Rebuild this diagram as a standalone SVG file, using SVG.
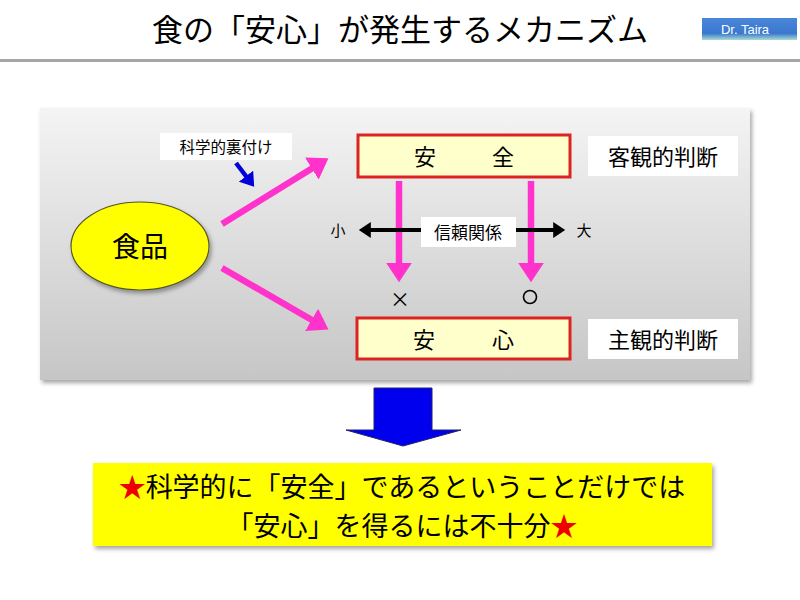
<svg xmlns="http://www.w3.org/2000/svg" width="800" height="600" viewBox="0 0 800 600">
<defs>
<linearGradient id="panelG" x1="0" y1="0" x2="0" y2="1">
<stop offset="0" stop-color="#f4f4f4"/>
<stop offset="1" stop-color="#c6c6c6"/>
</linearGradient>
<linearGradient id="badgeG" x1="0" y1="0" x2="0" y2="1">
<stop offset="0" stop-color="#4a86d8"/>
<stop offset="0.7" stop-color="#3a78d0"/>
<stop offset="1" stop-color="#a8dcd0"/>
</linearGradient>
<filter id="sh" x="-5%" y="-5%" width="110%" height="120%">
<feDropShadow dx="2" dy="3" stdDeviation="2" flood-color="#000" flood-opacity="0.35"/>
</filter>
<marker id="pinkHead" markerWidth="4" markerHeight="4" refX="2.2" refY="2" orient="auto" markerUnits="strokeWidth">
<path d="M0,0 L3,2 L0,4 Z" fill="#ff33cc"/>
</marker>
<marker id="blackHead" markerWidth="4" markerHeight="4" refX="2.2" refY="2" orient="auto" markerUnits="strokeWidth">
<path d="M0,0 L3,2 L0,4 Z" fill="#000"/>
</marker>
<marker id="blueHead" markerWidth="4" markerHeight="4" refX="2.2" refY="2" orient="auto" markerUnits="strokeWidth">
<path d="M0,0 L3,2 L0,4 Z" fill="#0000dd"/>
</marker>
</defs>
<style>
text{font-family:"Noto Sans CJK JP","Noto Sans CJK SC",sans-serif;fill:#000}
.box{fill:#ffffcc;stroke:#dd2222;stroke-width:3}
.lab{fill:#fff}
.pink{stroke:#ff33cc;stroke-width:6.5;fill:none;marker-end:url(#pinkHead)}
</style>
<rect width="800" height="600" fill="#fff"/>

<g id="title">
<text x="400" y="41" font-size="31" text-anchor="middle">食の「安心」が発生するメカニズム</text>
</g>
<g id="badge">
<rect x="702" y="18" width="95" height="22" fill="url(#badgeG)"/>
<text x="745" y="34" font-size="13" text-anchor="middle" style="fill:#fff;font-family:'Liberation Sans',sans-serif">Dr. Taira</text>
</g>
<rect x="0" y="59" width="800" height="3" fill="#a6a6a6"/>

<g id="panel">
<rect x="40" y="108" width="710" height="272" fill="url(#panelG)" filter="url(#sh)"/>
</g>

<g id="connectors">
<line class="pink" x1="222" y1="224" x2="324" y2="161"/>
<line class="pink" x1="222" y1="268" x2="324" y2="327"/>
<line class="pink" x1="399" y1="181" x2="399" y2="277"/>
<line class="pink" x1="531" y1="181" x2="531" y2="277"/>
<line x1="236" y1="163" x2="252" y2="184" stroke="#0000dd" stroke-width="4.5" marker-end="url(#blueHead)"/>
<line x1="440" y1="230" x2="362" y2="230" stroke="#000" stroke-width="4" marker-end="url(#blackHead)"/>
<line x1="500" y1="230" x2="562" y2="230" stroke="#000" stroke-width="4" marker-end="url(#blackHead)"/>
</g>

<g id="food">
<ellipse cx="140" cy="246" rx="69" ry="44" fill="#ffff00" stroke="#555522" stroke-width="1.2" filter="url(#sh)"/>
<text x="140" y="257" font-size="28" text-anchor="middle">食品</text>
</g>

<g id="label-science">
<rect class="lab" x="160" y="133" width="132" height="27"/>
<text x="226" y="153" font-size="15.5" text-anchor="middle">科学的裏付け</text>
</g>

<g id="safety">
<rect class="box" x="358" y="135" width="212" height="42"/>
<text x="425" y="165" font-size="22" text-anchor="middle">安</text>
<text x="503" y="165" font-size="22" text-anchor="middle">全</text>
</g>

<g id="objective">
<rect class="lab" x="588" y="136" width="150" height="40"/>
<text x="663" y="165" font-size="22" text-anchor="middle">客観的判断</text>
</g>

<g id="relief">
<rect class="box" x="357" y="318" width="213" height="41"/>
<text x="424" y="348" font-size="22" text-anchor="middle">安</text>
<text x="503" y="348" font-size="22" text-anchor="middle">心</text>
</g>

<g id="subjective">
<rect class="lab" x="588" y="319" width="150" height="40"/>
<text x="663" y="348" font-size="22" text-anchor="middle">主観的判断</text>
</g>

<g id="trust">
<rect class="lab" x="421" y="217" width="95" height="30"/>
<text x="468" y="239" font-size="17" text-anchor="middle">信頼関係</text>
<text x="338" y="236" font-size="15" text-anchor="middle">小</text>
<text x="584" y="236" font-size="15" text-anchor="middle">大</text>
</g>

<g id="marks">
<text x="400" y="307" font-size="20" text-anchor="middle">×</text>
<circle cx="530" cy="297" r="6.5" fill="none" stroke="#000" stroke-width="1.6"/>
</g>

<g id="down-arrow">
<path d="M374,388 H432 V430 H461 L403,446 L346,430 H374 Z" fill="#0000ee" stroke="#222266" stroke-width="1"/>
</g>

<g id="conclusion">
<rect x="93" y="463" width="619" height="83" fill="#ffff00" filter="url(#sh)"/>
<text x="402" y="497" font-size="27" text-anchor="middle"><tspan style="fill:#ee0000">★</tspan>科学的に「安全」であるということだけでは</text>
<text x="402" y="536" font-size="27" text-anchor="middle">「安心」を得るには不十分<tspan style="fill:#ee0000">★</tspan></text>
</g>
</svg>
